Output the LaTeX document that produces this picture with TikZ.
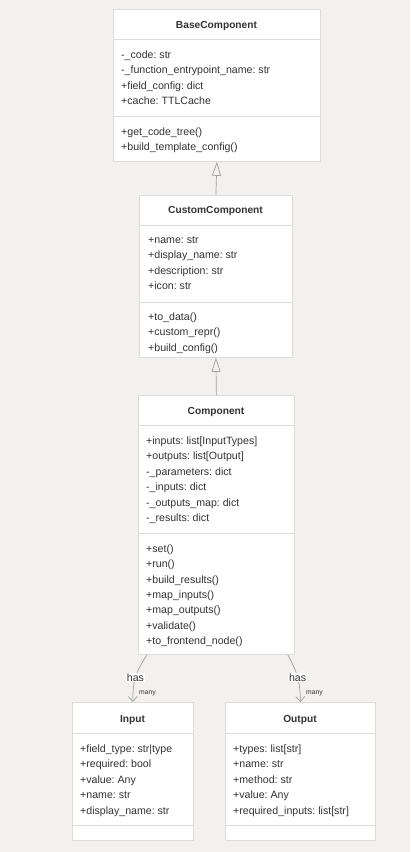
\documentclass[tikz,border=0pt]{standalone}
\usepackage{fontspec}
\setmainfont{Liberation Sans}
\usetikzlibrary{arrows.meta,calc}
\definecolor{bg}{HTML}{F2F1EF}
\definecolor{bd}{HTML}{DCDCDC}
\definecolor{tx}{HTML}{333333}
\definecolor{ln}{HTML}{A0A0A0}
\begin{document}
\frenchspacing
\begin{tikzpicture}[x=1pt,y=-1pt,
  box/.style={draw=bd, fill=white, line width=0.8pt, inner sep=0pt, anchor=north west},
  ttl/.style={font=\fontsize{10.2}{12}\selectfont\bfseries, text=tx, inner sep=0pt, anchor=base},
  mem/.style={font=\fontsize{10.6}{12}\selectfont, text=tx, anchor=base west, inner sep=0pt},
  divider/.style={draw=bd, line width=0.8pt},
  inherit/.style={draw=ln, line width=0.7pt, -{Triangle[open, length=14pt, width=9pt]}},
  assoc/.style={draw=ln, line width=0.7pt, -{Straight Barb[length=5pt, width=9pt]}},
  lbl/.style={font=\fontsize{10.6}{12}\selectfont, text=tx, fill=white, inner sep=0.8pt},
  mult/.style={font=\fontsize{6.8}{8}\selectfont, text=tx, anchor=base west, inner sep=0pt}]
\useasboundingbox[fill=bg] (0,0) rectangle (410,852);

% BaseComponent
\node[box, minimum width=207pt, minimum height=152pt] (base) at (113,9) {};
\node[ttl] (baset) at (216.5,28) {BaseComponent};
\draw[divider] (113,39) -- (320,39);
\draw[divider] (113,116) -- (320,116);
\foreach \t [count=\i] in {-\_code: str, -\_function\_entrypoint\_name: str, +field\_config: dict, +cache: TTLCache}
  \node[mem] (basea\i) at (121,{58.3+15.4*(\i-1)}) {\t};
\foreach \t [count=\i] in {+get\_code\_tree(), +build\_template\_config()}
  \node[mem] (basem\i) at (121,{135.3+15.4*(\i-1)}) {\t};

% CustomComponent
\node[box, minimum width=153pt, minimum height=162pt] (custom) at (139,195) {};
\node[ttl] (customt) at (215.5,213.5) {CustomComponent};
\draw[divider] (139,225) -- (292,225);
\draw[divider] (139,302) -- (292,302);
\foreach \t [count=\i] in {+name: str, +display\_name: str, +description: str, +icon: str}
  \node[mem] (customa\i) at (148,{243.5+15.4*(\i-1)}) {\t};
\foreach \t [count=\i] in {+to\_data(), +custom\_repr(), +build\_config()}
  \node[mem] (customm\i) at (148,{320.5+15.4*(\i-1)}) {\t};

% Component
\node[box, minimum width=156pt, minimum height=259pt] (comp) at (138,395) {};
\node[ttl] (compt) at (216,414) {Component};
\draw[divider] (138,425) -- (294,425);
\draw[divider] (138,533) -- (294,533);
\foreach \t [count=\i] in {+inputs: list[InputTypes], +outputs: list[Output], -\_parameters: dict, -\_inputs: dict, -\_outputs\_map: dict, -\_results: dict}
  \node[mem] (compa\i) at (146,{444.5+15.4*(\i-1)}) {\t};
\foreach \t [count=\i] in {+set(), +run(), +build\_results(), +map\_inputs(), +map\_outputs(), +validate(), +to\_frontend\_node()}
  \node[mem] (compm\i) at (146,{552.5+15.35*(\i-1)}) {\t};

% Input
\node[box, minimum width=121pt, minimum height=138pt] (input) at (72,702) {};
\node[ttl] (inputt) at (132.5,722) {Input};
\draw[divider] (72,733) -- (193,733);
\draw[divider] (72,825) -- (193,825);
\foreach \t [count=\i] in {+field\_type: str|type, +required: bool, +value: Any, +name: str, +display\_name: str}
  \node[mem] (inputa\i) at (80,{752.5+15.4*(\i-1)}) {\t};

% Output
\node[box, minimum width=150pt, minimum height=138pt] (output) at (225,702) {};
\node[ttl] (outputt) at (300,722) {Output};
\draw[divider] (225,733) -- (375,733);
\draw[divider] (225,825) -- (375,825);
\foreach \t [count=\i] in {+types: list[str], +name: str, +method: str, +value: Any, +required\_inputs: list[str]}
  \node[mem] (outputa\i) at (233,{752.5+15.4*(\i-1)}) {\t};

% inheritance
\draw[inherit] (custom.north) -- (base.south);
\draw[inherit] (comp.north) -- (custom.south);

% associations
\draw[assoc] ($(comp.south west)+(9,0)$) .. controls (136,672) and (132.5,680) .. (input.north)
  node[lbl, pos=0.52] (has1) {has};
\node[mult] (many1) at (139,694) {many};
\draw[assoc] ($(comp.south east)+(-7,0)$) .. controls (297,672) and (300,680) .. (output.north)
  node[lbl, pos=0.52] (has2) {has};
\node[mult] (many2) at (306,694) {many};
\end{tikzpicture}
\end{document}
